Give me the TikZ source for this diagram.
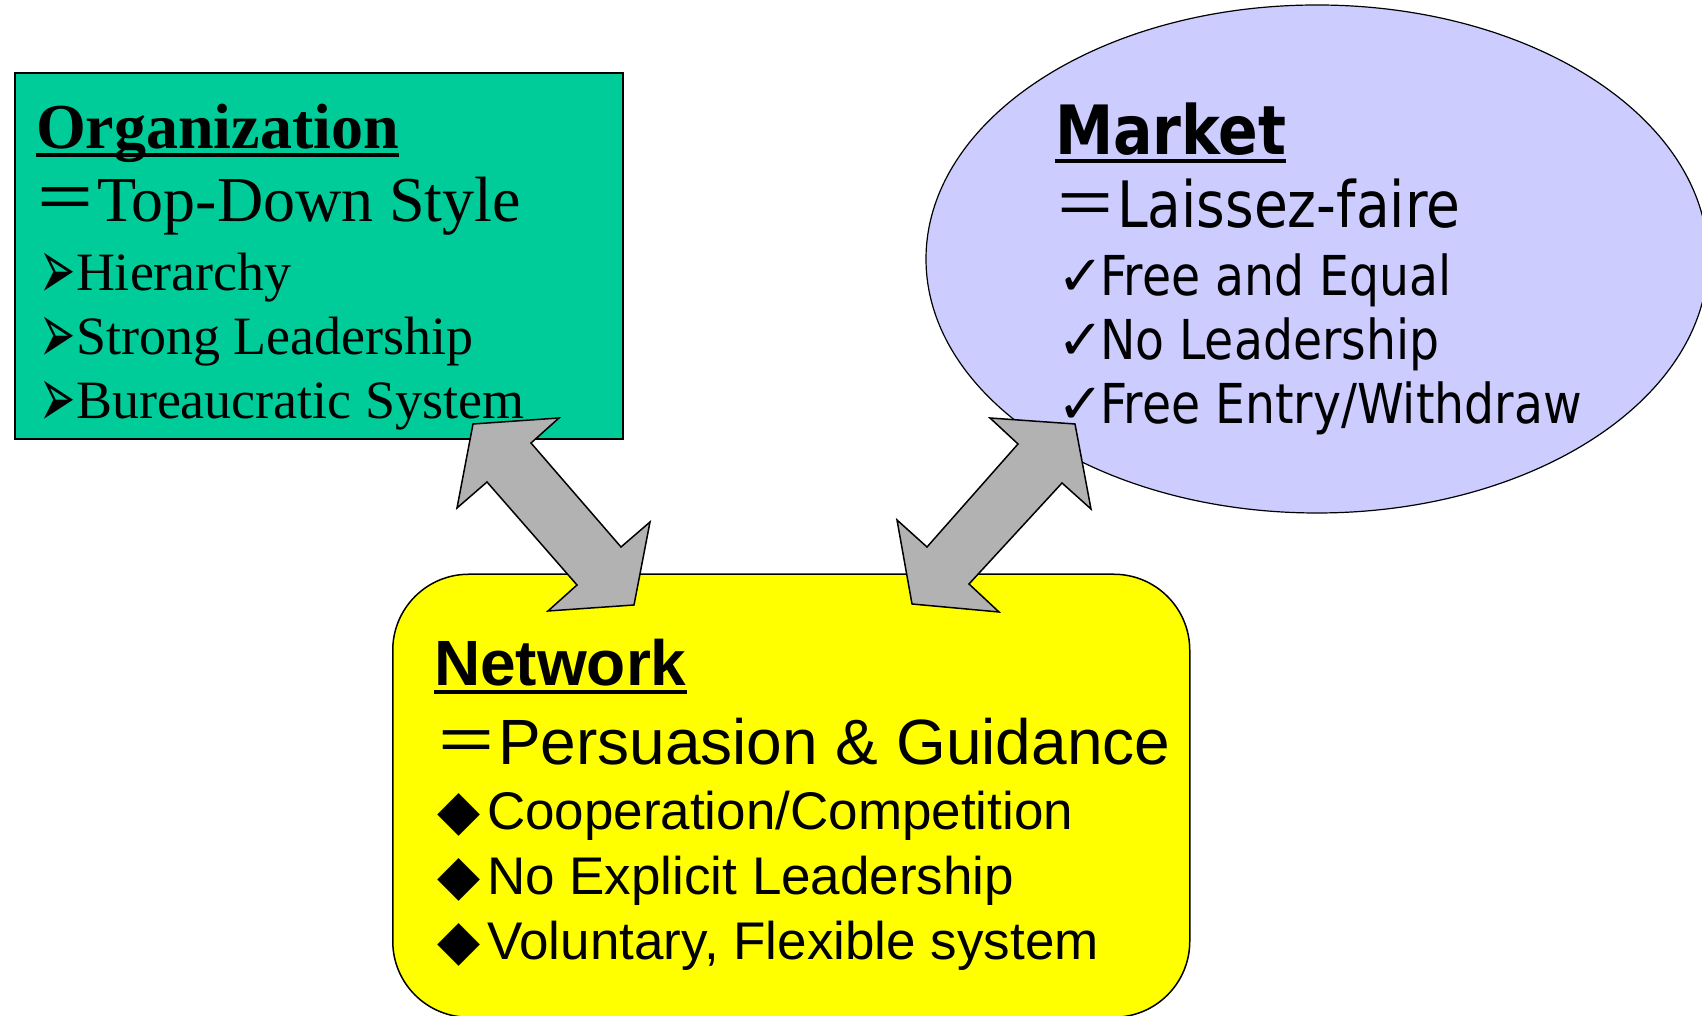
\documentclass[tikz,border=0pt]{standalone}
\usepackage{fontspec}
\usepackage{graphicx}
\usetikzlibrary{shapes.geometric}
\setmainfont{Liberation Serif}
\newfontfamily\arialf{Liberation Sans}
\newfontfamily\mktf[FakeStretch=0.86]{DejaVu Sans}
\newfontfamily\symf{DejaVu Sans}
\newfontfamily\cjk{Noto Sans CJK SC}
\definecolor{orggreen}{RGB}{0,204,153}
\definecolor{mktblue}{RGB}{204,204,255}
\definecolor{netyellow}{RGB}{255,255,0}
\definecolor{arrowgray}{RGB}{178,178,178}
\newcommand\orgbul{\makebox[37pt][l]{\raisebox{-9pt}{\scalebox{0.72}[1.45]{\symf\fontsize{60}{60}\selectfont ➢}}}}
\newcommand\mktbul{\makebox[43pt][l]{\symf\fontsize{56}{60}\selectfont ✓}}
\newcommand\netbul{\makebox[50pt][l]{\symf\fontsize{56}{60}\selectfont ◆}}
\begin{document}
\begin{tikzpicture}[x=1pt,y=1pt,
  txt/.style={anchor=base west,inner sep=0pt,outer sep=0pt},
  blockarrow/.style={fill=arrowgray,draw=black,line width=1.5pt,line join=miter},
  ulline/.style={line width=3.5pt}]
\useasboundingbox (0,0) rectangle (1702,1016);
% shapes
\node[draw=black,line width=1.5pt,fill=orggreen,minimum width=608pt,minimum height=366pt,inner sep=0pt,anchor=south west] (org) at (14,576) {};
\node[draw=black,line width=1.2pt,fill=mktblue,ellipse,minimum width=782pt,minimum height=508pt,inner sep=0pt] (mkt) at (1317,757) {};
\node[draw=black,line width=1.5pt,fill=netyellow,rounded corners=76pt,minimum width=797pt,minimum height=443pt,inner sep=0pt,anchor=south west] (net) at (392,-2) {};
% Organization text
\node[txt,font=\fontsize{64}{70}\selectfont\bfseries] (orgt) at (36,867) {Organization};
\draw[ulline] ([yshift=-6pt]orgt.base west) -- ([yshift=-6pt]orgt.base east);
\node[txt,font=\fontsize{64}{70}\selectfont] (org1) at (33,794) {{\cjk ＝}Top-Down Style};
\node[txt,font=\fontsize{54}{60}\selectfont] (org2) at (39,725) {\orgbul Hierarchy};
\node[txt,font=\fontsize{54}{60}\selectfont] (org3) at (39,661) {\orgbul Strong Leadership};
\node[txt,font=\fontsize{54}{60}\selectfont] (org4) at (39,597) {\orgbul Bureaucratic System};
% Market text
\node[txt,font=\fontsize{68}{74}\selectfont\mktf\bfseries] (mktt) at (1055,861) {Market};
\draw[ulline] ([yshift=-6pt]mktt.base west) -- ([yshift=-6pt]mktt.base east);
\node[txt,font=\fontsize{64}{70}\selectfont\mktf] (mkt1) at (1053,788) {{\cjk ＝}Laissez-faire};
\node[txt,font=\fontsize{55}{60}\selectfont\mktf] (mkt2) at (1057,720) {\mktbul Free and Equal};
\node[txt,font=\fontsize{55}{60}\selectfont\mktf] (mkt3) at (1057,656) {\mktbul No Leadership};
\node[txt,font=\fontsize{55}{60}\selectfont\mktf] (mkt4) at (1057,592) {\mktbul Free Entry/Withdraw};
% Network text
\node[txt,font=\fontsize{64}{70}\selectfont\arialf\bfseries] (nett) at (434,330) {Network};
\draw[ulline] ([yshift=-6pt]nett.base west) -- ([yshift=-6pt]nett.base east);
\node[txt,font=\fontsize{64}{70}\selectfont\arialf] (net1) at (434,251) {{\cjk ＝}Persuasion \& Guidance};
\node[txt,font=\fontsize{53}{60}\selectfont\arialf] (net2) at (437,186) {\netbul Cooperation/Competition};
\node[txt,font=\fontsize{53}{60}\selectfont\arialf] (net3) at (437,121) {\netbul No Explicit Leadership};
\node[txt,font=\fontsize{53}{60}\selectfont\arialf] (net4) at (437,56) {\netbul Voluntary, Flexible system};
% block arrows
\draw[blockarrow] (473,592) -- (559,598) -- (531,573) -- (621,469) -- (650,494) -- (634,411) -- (548,405) -- (577,431) -- (487,534) -- (457,508) -- cycle;
\draw[blockarrow] (990,598) -- (1075,592) -- (1091,507) -- (1062,533) -- (969,432) -- (999,404) -- (912,412) -- (897,496) -- (927,469) -- (1018,572) -- cycle;
\end{tikzpicture}
\end{document}
